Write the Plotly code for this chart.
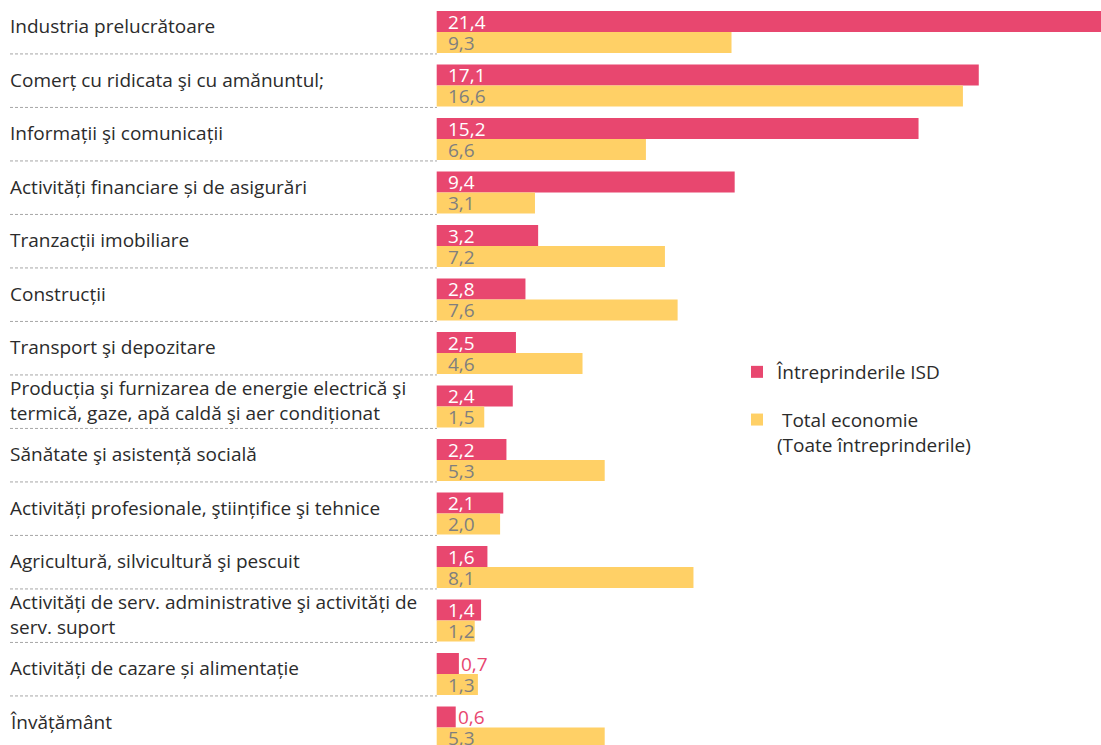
import plotly.graph_objects as go

# Sectors (top to bottom) and shares (%)
categories = [
    "Industria prelucrătoare",
    "Comerț cu ridicata şi cu amănuntul;",
    "Informații şi comunicații",
    "Activități financiare și de asigurări",
    "Tranzacții imobiliare",
    "Construcții",
    "Transport şi depozitare",
    "Producția şi furnizarea de energie electrică şi<br>termică, gaze, apă caldă şi aer condiționat",
    "Sănătate şi asistență socială",
    "Activități profesionale, ştiințifice şi tehnice",
    "Agricultură, silvicultură şi pescuit",
    "Activități de serv. administrative şi activități de<br>serv. suport",
    "Activități de cazare și alimentație",
    "Învățământ",
]
isd_values = [21.4, 17.1, 15.2, 9.4, 3.2, 2.8, 2.5, 2.4, 2.2, 2.1, 1.6, 1.4, 0.7, 0.6]
total_values = [9.3, 16.6, 6.6, 3.1, 7.2, 7.6, 4.6, 1.5, 5.3, 2.0, 8.1, 1.2, 1.3, 5.3]
series_names = ["Întreprinderile ISD", "\u00a0Total economie<br>(Toate întreprinderile)"]

RED = "#E8476F"
YELLOW = "#FFD066"
FONT = "Open Sans"
W, H = 1101, 745
PX_PER_UNIT = 31.7
BAR_X0 = 436.7      # where the bars start (px)
ROW_PX = 53.5       # height of one category row
ROW0_Y = 32         # centre of the first row (px)
HALF_BAR = 10.5     # half of one bar's thickness (px)


def fmt(v):
    return f"{v:.1f}".replace(".", ",")


fig = go.Figure()

for vals, name, color, txtcolor, group, shift in [
    (isd_values, series_names[0], RED, "white", "a", HALF_BAR),
    (total_values, series_names[1], YELLOW, "#7f7f7f", "b", -HALF_BAR),
]:
    fig.add_trace(go.Bar(
        y=categories, x=vals, orientation="h", name=name,
        legendgroup=group,
        marker=dict(color=color, line=dict(width=0)),
        hoverinfo="skip",
    ))
    # value labels: inside at the bar start, or just past the end for tiny bars
    for c, v in zip(categories, vals):
        inside = v >= 1
        fig.add_annotation(
            x=0 if inside else v, xref="x", y=c, yref="y",
            text=fmt(v), showarrow=False, xanchor="left",
            xshift=9 if inside else 0, yshift=shift,
            font=dict(size=19, family=FONT, color=txtcolor if inside else color),
        )

# category labels on the left
for c in categories:
    fig.add_annotation(
        x=8 / W, xref="paper", y=c, yref="y", text=c,
        xanchor="left", align="left", showarrow=False, yshift=6,
        font=dict(size=19, color="#2b2b2b", family=FONT),
    )

# dashed separators between categories
for i in range(len(categories) - 1):
    fig.add_shape(
        type="line", xref="paper", yref="y",
        x0=10 / W, x1=437 / W, y0=i + 0.41, y1=i + 0.41,
        line=dict(color="#a6a6a6", width=1, dash="3px,2px"),
    )

fig.update_layout(
    width=W, height=H,
    margin=dict(l=0, r=0, t=0, b=0),
    paper_bgcolor="white", plot_bgcolor="white",
    barmode="group", bargap=0.215, bargroupgap=0,
    showlegend=True,
    xaxis=dict(visible=False, range=[-BAR_X0 / PX_PER_UNIT, (W - BAR_X0) / PX_PER_UNIT], fixedrange=True),
    yaxis=dict(visible=False, type="category", categoryorder="array", categoryarray=categories,
               range=[(H - ROW0_Y) / ROW_PX, -ROW0_Y / ROW_PX], fixedrange=True),
    legend=dict(
        x=737 / W, y=1 - 353 / H, xanchor="left", yanchor="top",
        traceorder="grouped", tracegroupgap=20, valign="top",
        font=dict(size=19, color="#2b2b2b", family=FONT),
        bgcolor="rgba(0,0,0,0)",
    ),
)

# drop the browser's default 8px body margin so the figure fills the window
fig.write_html(
    "out.html",
    config={"displayModeBar": False},
    post_script="document.body.style.margin='0';",
)
